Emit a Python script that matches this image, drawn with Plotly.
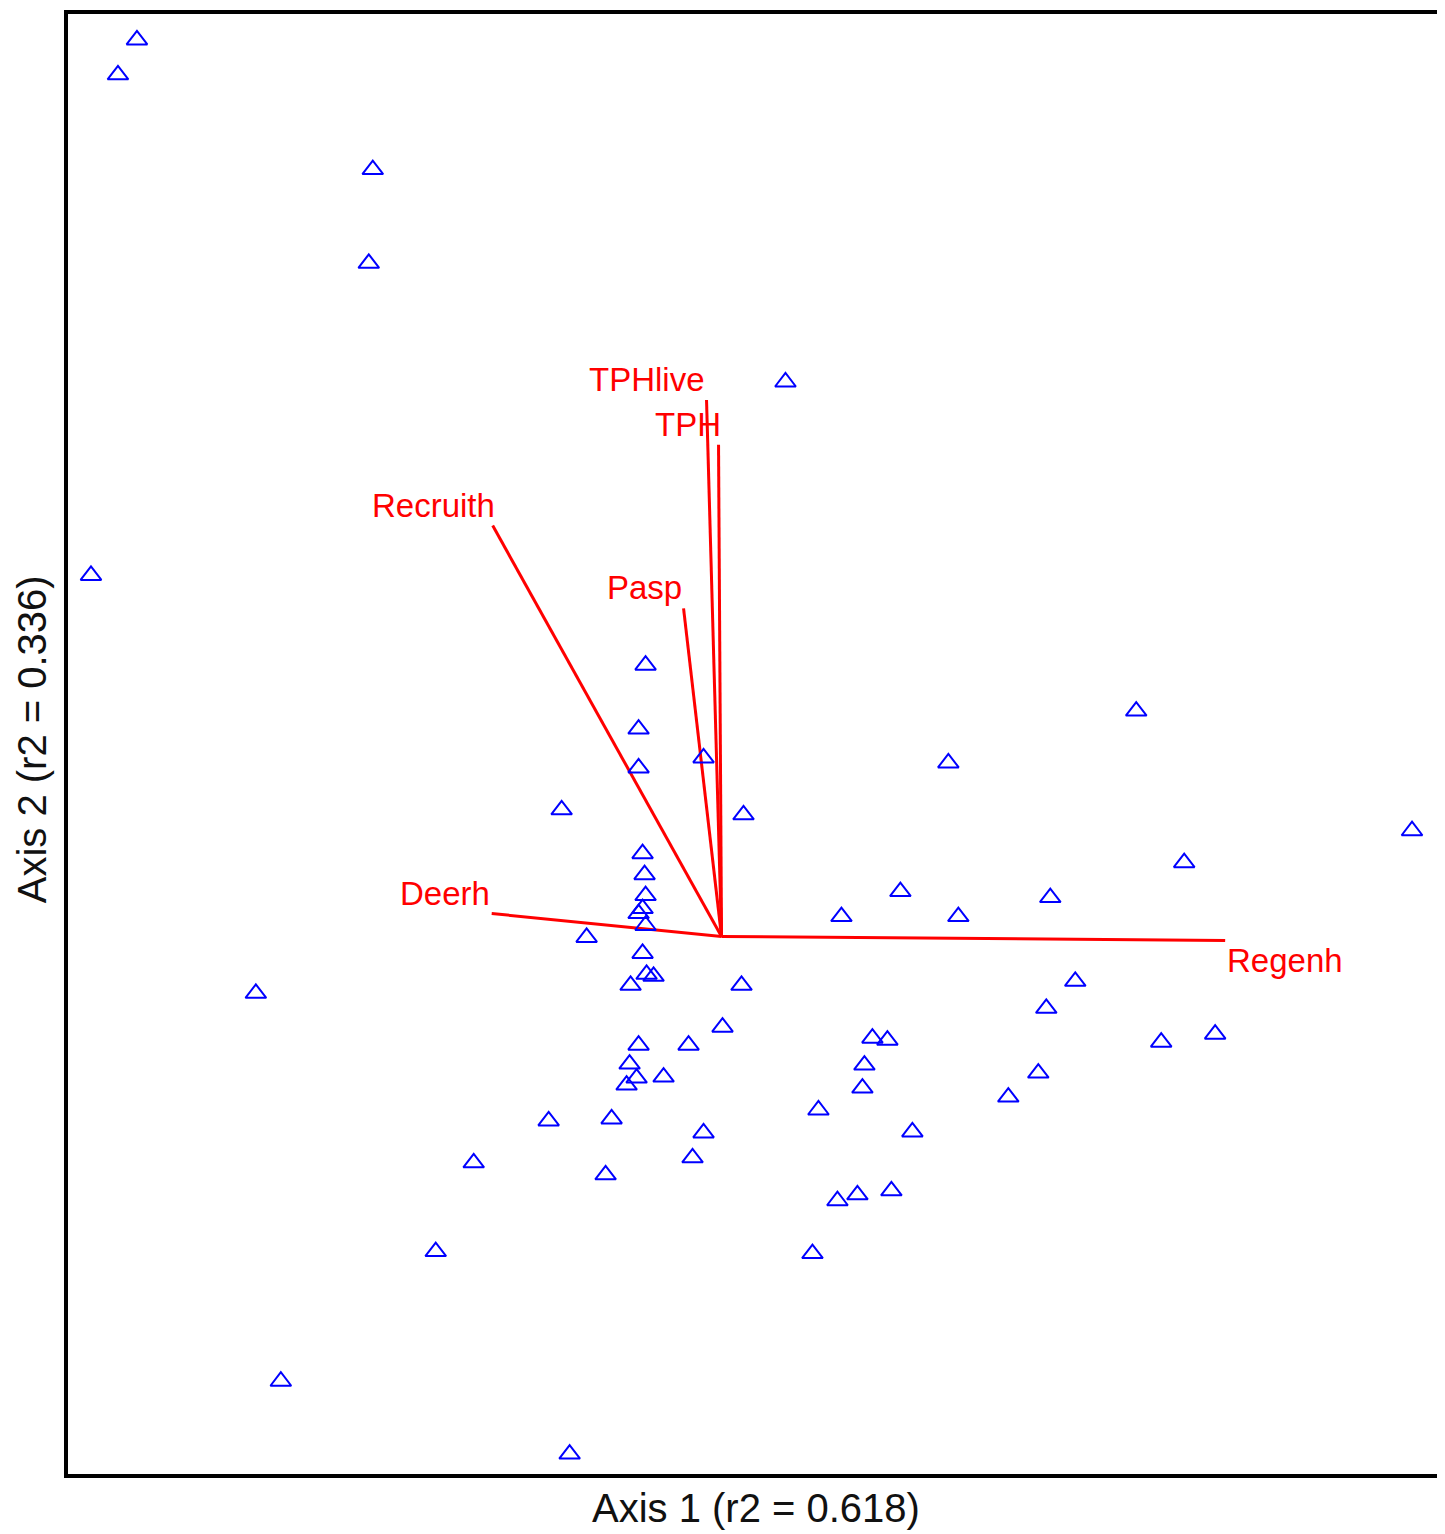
import plotly.graph_objects as go

# Sample scores (Axis 1, Axis 2)
axis1 = [-1.170, -1.208, -0.698, -0.706, 0.128, -1.262, 0.830, 0.454, 1.382, 0.926,
         0.358, 0.658, 0.240, 0.474, 0.708, 0.650, -0.932, 0.302, 0.332, 0.880,
         0.988, 0.286, 0.282, 0.634, 0.574, 0.382, -0.496, 0.232, 0.272, 0.340,
         -0.572, 0.182, -0.882, -0.304,
         -0.152, -0.166, -0.166, -0.036, -0.320, 0.044, -0.158, -0.154, -0.152, -0.158,
         -0.166, -0.152, -0.270, -0.158, -0.150, -0.136, -0.182, 0.040, 0.002, -0.166,
         -0.066, -0.184, -0.170, -0.116, -0.190, -0.346, -0.220, 0.194, -0.036, -0.058,
         -0.232]
axis2 = [1.798, 1.728, 1.538, 1.350, 1.112, 0.724, 0.452, 0.348, 0.212, 0.148,
         0.090, 0.078, 0.040, 0.040, -0.090, -0.144, -0.114, -0.204, -0.208, -0.212,
         -0.196, -0.258, -0.304, -0.274, -0.322, -0.392, -0.454, -0.530, -0.518, -0.510,
         -0.632, -0.636, -0.892, -1.038,
         0.544, 0.416, 0.338, 0.358, 0.254, 0.244, 0.166, 0.124, 0.082, 0.056,
         0.046, 0.022, -0.002, -0.034, -0.076, -0.080, -0.098, -0.098, -0.182, -0.218,
         -0.218, -0.256, -0.284, -0.282, -0.298, -0.370, -0.366, -0.348, -0.394, -0.444,
         -0.478]

# Biplot vectors (end points, origin at 0,0)
vec_names = ["Regenh", "Deerh", "Recruith", "Pasp", "TPHlive", "TPH"]
vec_x = [1.008, -0.460, -0.458, -0.076, -0.030, -0.006]
vec_y = [-0.008, 0.046, 0.824, 0.658, 1.076, 0.986]

x_title = "Axis 1 (r2 = 0.618)"
y_title = "Axis 2 (r2 = 0.336)"

fig = go.Figure()

for name, vx, vy in zip(vec_names, vec_x, vec_y):
    fig.add_trace(go.Scatter(x=[0, vx], y=[0, vy], mode="lines",
                             line=dict(color="#ff0000", width=3),
                             hoverinfo="skip", showlegend=False))

fig.add_trace(go.Scatter(x=axis1, y=axis2, mode="markers",
                         marker=dict(symbol="triangle-up-open", size=18,
                                     color="#0000ff", line=dict(width=2, color="#0000ff")),
                         showlegend=False))

label_font = dict(family="Liberation Sans, Arial, sans-serif", size=33, color="#ff0000")
for name, vx, vy in zip(vec_names, vec_x, vec_y):
    if name == "Regenh":
        fig.add_annotation(x=vx, y=vy, text=name, showarrow=False, xanchor="left",
                           yanchor="top", font=label_font)
    else:
        fig.add_annotation(x=vx, y=vy, text=name, showarrow=False, xanchor="right",
                           yanchor="bottom", xshift=4 if name in ("Recruith", "TPH") else 0,
                           font=label_font)

title_font = dict(family="Liberation Sans, Arial, sans-serif", size=40, color="#111111")
fig.add_annotation(xref="paper", yref="paper", x=0.502, y=-0.0235, text=x_title,
                   showarrow=False, xanchor="center", yanchor="middle", font=title_font)
fig.add_annotation(xref="paper", yref="paper", x=-0.0265, y=0.503, text=y_title,
                   showarrow=False, xanchor="center", yanchor="middle", textangle=-90,
                   font=title_font)

axis_common = dict(showgrid=False, zeroline=False, showticklabels=False, ticks="",
                   showline=True, mirror=True, linecolor="black", linewidth=4)
fig.update_xaxes(range=[-1.308, 1.436], **axis_common)
fig.update_yaxes(range=[-1.078, 1.85], **axis_common)

fig.update_layout(width=1437, height=1526, plot_bgcolor="white", paper_bgcolor="white",
                  margin=dict(l=60, r=5, t=2, b=60), showlegend=False)

fig.write_html("out.html")
